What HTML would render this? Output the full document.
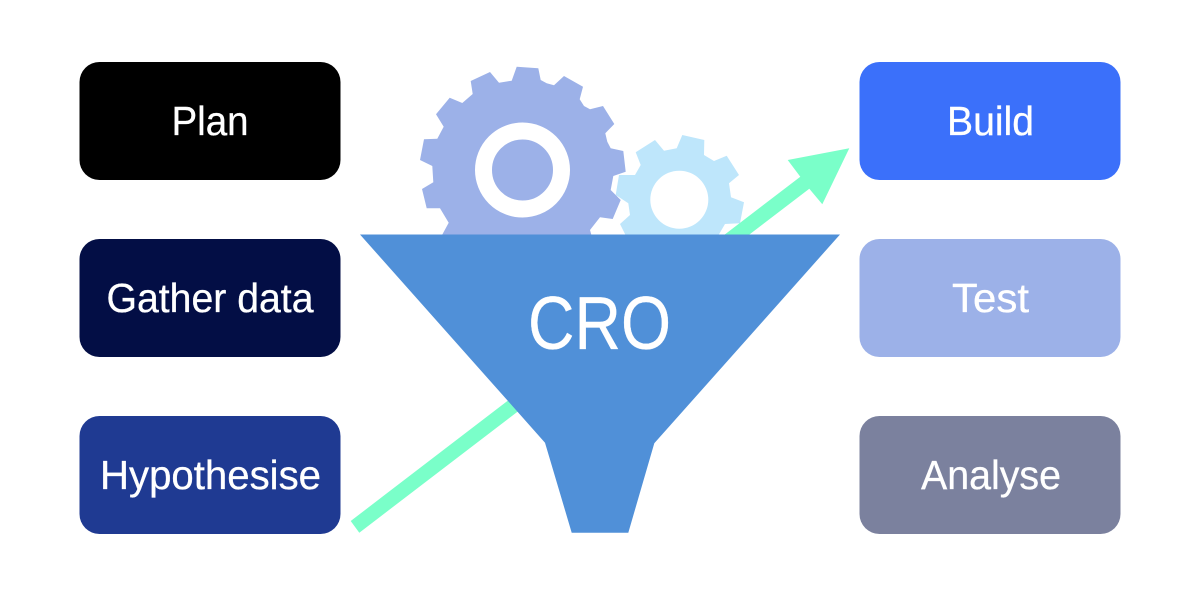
<!DOCTYPE html>
<html>
<head>
<meta charset="utf-8">
<style>
html,body{margin:0;padding:0;background:#fff;width:1200px;height:600px;overflow:hidden}
svg{display:block}
text{font-family:"Liberation Sans",sans-serif;fill:#fff;font-size:41px;stroke:#fff;stroke-width:.3px}
</style>
</head>
<body>
<svg width="1200" height="600" viewBox="0 0 1200 600" xmlns="http://www.w3.org/2000/svg">
<rect width="1200" height="600" fill="#fff"/>
<rect x="79.5" y="62" width="261" height="118" rx="20" fill="#000000"/>
<rect x="79.5" y="239" width="261" height="118" rx="20" fill="#030E45"/>
<rect x="79.5" y="416" width="261" height="118" rx="20" fill="#1F3A92"/>
<rect x="859.5" y="62" width="261" height="118" rx="20" fill="#3B70FA"/>
<rect x="859.5" y="239" width="261" height="118" rx="20" fill="#9CB1E8"/>
<rect x="859.5" y="416" width="261" height="118" rx="20" fill="#7B819E"/>
<text x="171.5" y="135" textLength="77" lengthAdjust="spacingAndGlyphs">Plan</text>
<text x="106.5" y="312" textLength="207" lengthAdjust="spacingAndGlyphs">Gather data</text>
<text x="100" y="489" textLength="221" lengthAdjust="spacingAndGlyphs">Hypothesise</text>
<text x="947" y="135" textLength="87" lengthAdjust="spacingAndGlyphs">Build</text>
<text x="952" y="312" textLength="77" lengthAdjust="spacingAndGlyphs">Test</text>
<text x="921" y="489" textLength="140" lengthAdjust="spacingAndGlyphs">Analyse</text>
<path fill-rule="evenodd" fill="#BEE6FB" d="M682.3,135 L704.3,140 L704,155 L714,161 L726.7,155.7 L739,175 L729,183.3 L731,197.3 L744,202.3 L740,223.3 L725,224 L718,236 L626,236 L620,224 L630,215 L628.3,203.3 L615.7,195 L619,175 L635,175 L640.7,165 L635.7,152.3 L655,140 L664,150.7 L676.7,148.3 Z M708.3,199.7 A29,29 0 1 0 650.3,199.7 A29,29 0 1 0 708.3,199.7 Z"/>
<path fill="#9CB1E8" d="M516.7,66.7 L538.3,68.3 L540.7,80 L546.7,83.3 L554,85.3 L564,76 L583,86.7 L579.7,99.3 L584,106 L590,109.3 L603,106 L614.3,124 L605.3,133.3 L607.3,141.7 L610.7,148.3 L623.3,151 L625.7,171.7 L613.3,176 L610.7,190 L620.7,200 L612.7,219 L600,217.3 L590,230 L591.7,236 L441.5,236 L448.7,222.7 L440,208.3 L426.7,208.3 L422,189 L433.3,182.3 L432.3,166 L420,160 L424,139.3 L437.3,138.7 L443.7,126.7 L436,114.3 L449.7,97.7 L462.3,103 L472.7,94 L470.7,81 L490,72 L499,82.7 L511.7,80.7 Z"/>
<circle cx="522.5" cy="170" r="39" fill="none" stroke="#fff" stroke-width="17"/>
<polygon fill="#7AFFC9" points="350.7,521 800.3,176.7 787.7,160 849.3,148.3 822.3,204.3 809.3,188.7 359.3,532.7"/>
<polygon fill="#5090D8" points="360,234.5 840,234.5 654.3,443.3 628.3,532.7 571.7,532.7 545,442.7"/>
<text x="528" y="349" textLength="143" lengthAdjust="spacingAndGlyphs" style="font-size:75px">CRO</text>
</svg>
</body>
</html>
